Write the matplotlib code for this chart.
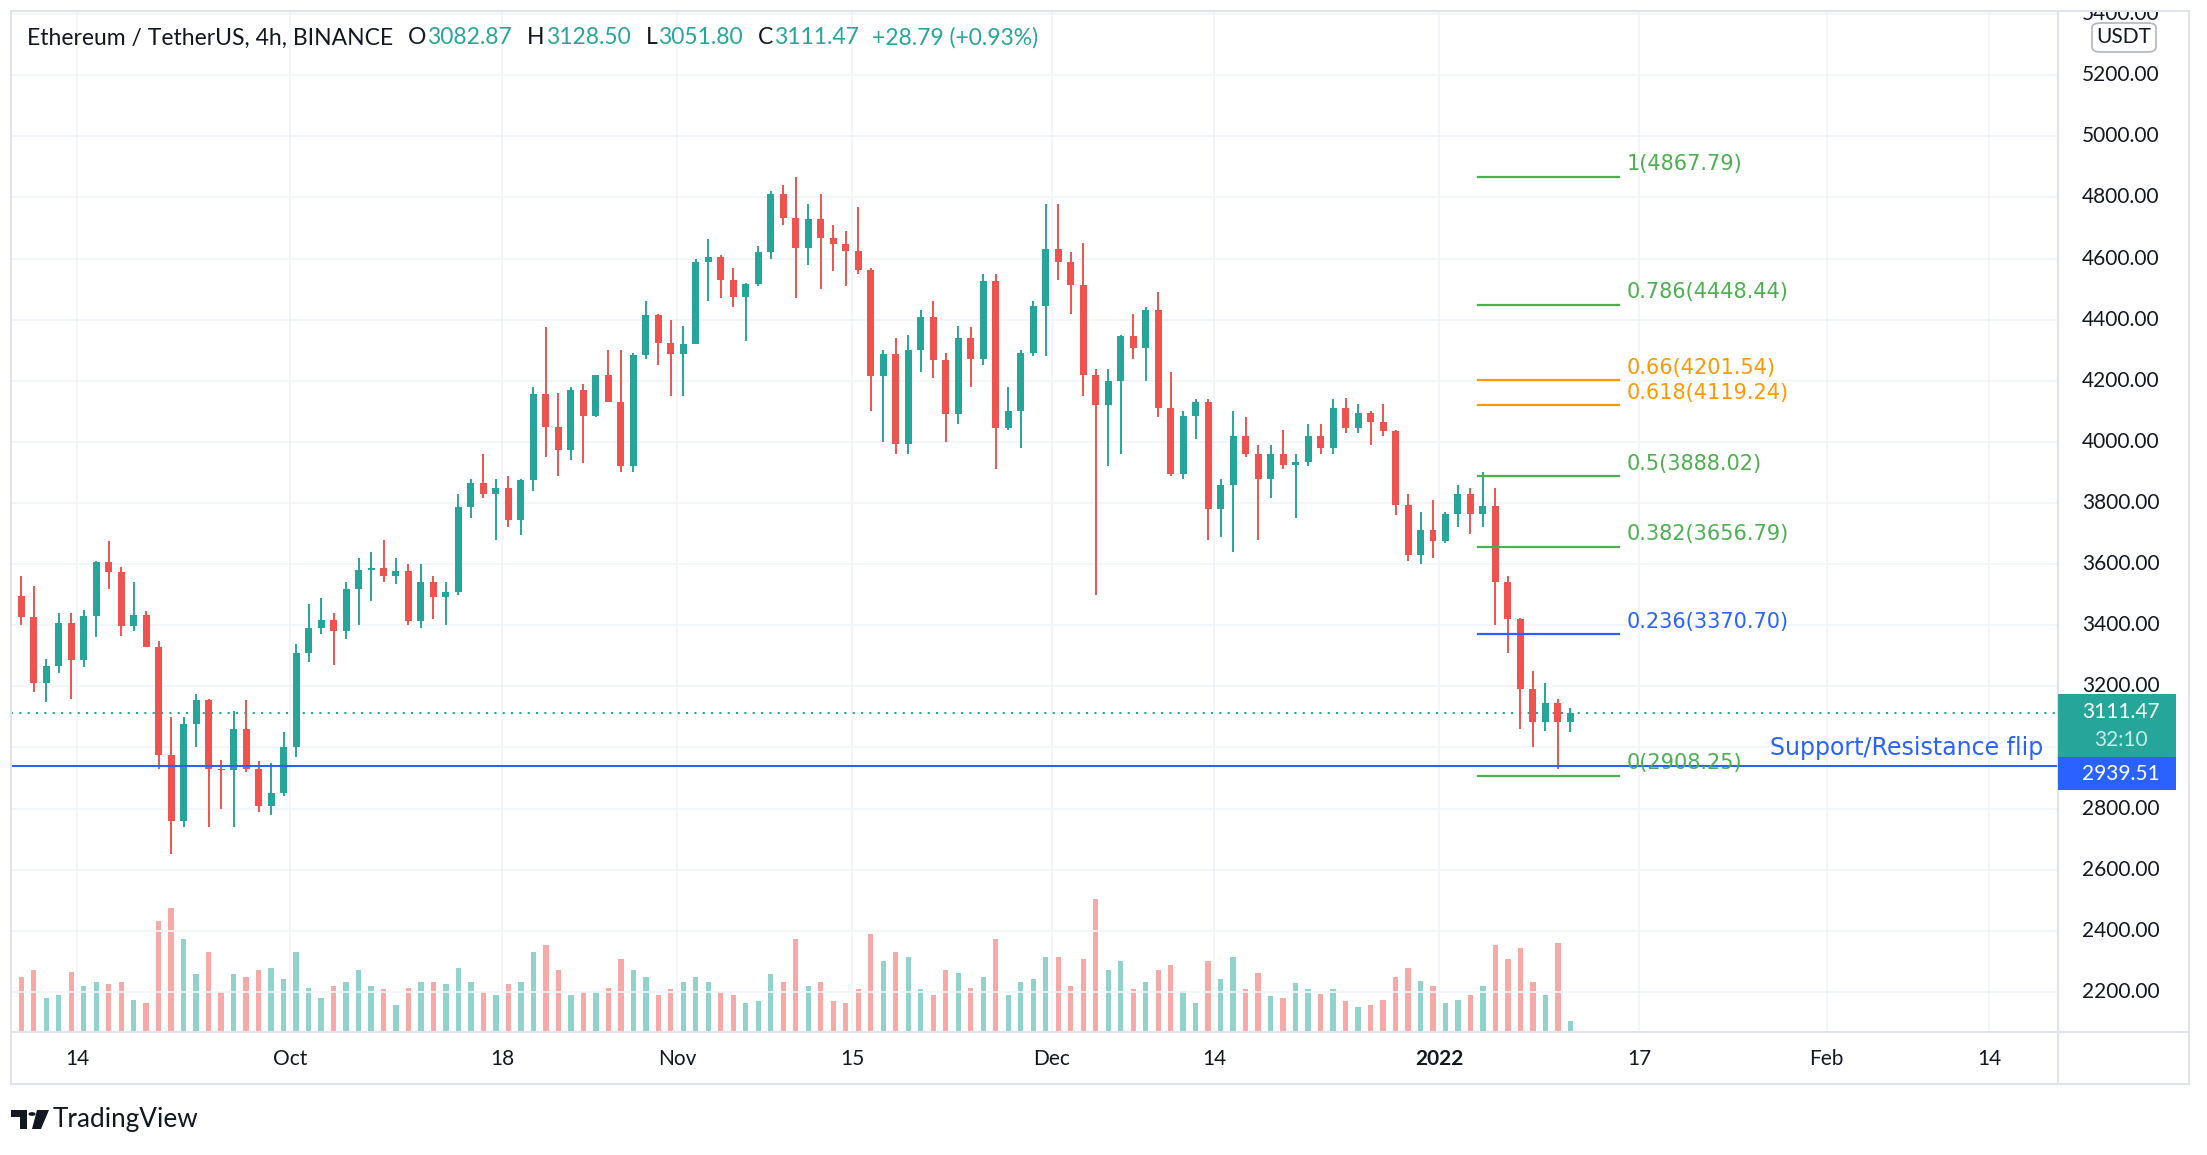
import matplotlib
matplotlib.use("Agg")
import matplotlib.pyplot as plt
import matplotlib.dates as mdates
from matplotlib.patches import Rectangle, FancyBboxPatch, Polygon, Circle
from matplotlib.lines import Line2D
from datetime import datetime, timedelta

# ETH/USDT (Binance), daily candles, Sep 9 2021 -> Jan 11 2022
first_day = datetime(2021, 9, 9)

opens = [3495, 3427, 3210, 3266, 3407, 3285, 3429, 3606, 3575, 3397, 3433, 3330, 2975, 2760, 3077, 3155, 2930, 2925, 3062, 2930, 2808, 2851,
         3000, 3308, 3390, 3418, 3382, 3518, 3580, 3588, 3561, 3576, 3415, 3543, 3493, 3510, 3788, 3866, 3830, 3849, 3745, 3876, 4158, 4050, 3972, 4170, 4085, 4218, 4130, 3921, 4283, 4414, 4325,
         4288, 4320, 4589, 4605, 4530, 4475, 4518, 4620, 4812, 4734, 4635, 4730, 4667, 4648, 4625, 4562, 4215, 4288, 3992, 4300, 4410, 4268, 4090, 4340, 4271, 4525, 4045, 4100, 4292, 4445,
         4632, 4589, 4515, 4220, 4120, 4198, 4346, 4308, 4432, 4110, 3895, 4085, 4130, 3780, 3860, 4020, 3960, 3880, 3960, 3925, 3935, 4020, 3980, 4110, 4045, 4095, 4065, 4035, 3792, 3630, 3713,
         3676, 3765, 3830, 3765, 3790, 3540, 3420, 3190, 3085, 3145, 3082.87]
highs = [3560, 3530, 3290, 3440, 3440, 3450, 3610, 3675, 3590, 3540, 3445, 3350, 3100, 3100, 3175, 3160, 2960, 3120, 3155, 2955, 2950, 3050,
         3340, 3470, 3490, 3440, 3540, 3620, 3640, 3680, 3620, 3600, 3600, 3560, 3540, 3830, 3880, 3960, 3880, 3890, 3880, 4180, 4375, 4160, 4180, 4190, 4220, 4300, 4300, 4290, 4460, 4420, 4400,
         4380, 4600, 4665, 4610, 4570, 4520, 4640, 4822, 4840, 4868, 4780, 4810, 4710, 4690, 4770, 4570, 4300, 4340, 4350, 4430, 4460, 4290, 4380, 4375, 4550, 4550, 4180, 4300, 4460, 4780,
         4778, 4620, 4650, 4240, 4240, 4350, 4420, 4440, 4490, 4230, 4100, 4140, 4140, 3880, 4100, 4080, 3990, 3990, 4040, 3960, 4060, 4060, 4140, 4145, 4125, 4100, 4125, 4040, 3830, 3770, 3810,
         3770, 3860, 3850, 3900, 3850, 3560, 3425, 3250, 3210, 3160, 3128.50]
lows = [3400, 3180, 3150, 3245, 3160, 3265, 3360, 3520, 3365, 3380, 3330, 2930, 2650, 2740, 3000, 2740, 2800, 2740, 2920, 2790, 2780, 2840,
        2970, 3280, 3370, 3270, 3355, 3400, 3480, 3540, 3535, 3400, 3390, 3420, 3400, 3500, 3750, 3815, 3680, 3720, 3695, 3840, 3950, 3890, 3940, 3930, 4080, 4130, 3900, 3900, 4270, 4250, 4150,
        4150, 4320, 4460, 4470, 4440, 4330, 4510, 4600, 4710, 4470, 4580, 4500, 4560, 4510, 4550, 4100, 4000, 3960, 3960, 4230, 4210, 4000, 4060, 4180, 4250, 3910, 4040, 3980, 4280, 4280,
        4530, 4420, 4150, 3500, 3920, 3960, 4270, 4200, 4080, 3890, 3880, 4010, 3680, 3690, 3640, 3950, 3680, 3815, 3910, 3750, 3920, 3960, 3960, 4030, 4030, 3990, 4020, 3760, 3610, 3600, 3620,
        3670, 3720, 3700, 3720, 3400, 3310, 3060, 3000, 3055, 2928, 3051.80]
closes = [3427, 3210, 3266, 3407, 3285, 3429, 3606, 3575, 3397, 3433, 3330, 2975, 2760, 3077, 3155, 2930, 2925, 3062, 2930, 2808, 2851, 3000,
          3308, 3390, 3418, 3382, 3518, 3580, 3588, 3561, 3576, 3415, 3543, 3493, 3510, 3788, 3866, 3830, 3849, 3745, 3876, 4158, 4050, 3972, 4170, 4085, 4218, 4130, 3921, 4283, 4414, 4325, 4288,
          4320, 4589, 4605, 4530, 4475, 4518, 4620, 4812, 4734, 4635, 4730, 4667, 4648, 4625, 4562, 4215, 4288, 3992, 4300, 4410, 4268, 4090, 4340, 4271, 4525, 4045, 4100, 4292, 4445, 4632,
          4589, 4515, 4220, 4120, 4198, 4346, 4308, 4432, 4110, 3895, 4085, 4130, 3780, 3860, 4020, 3960, 3880, 3960, 3925, 3935, 4020, 3980, 4110, 4045, 4095, 4065, 4035, 3792, 3630, 3713, 3676,
          3765, 3830, 3765, 3790, 3540, 3420, 3190, 3085, 3145, 3082.87, 3111.47]
# thousand ETH per day, estimated from the volume pane
volumes = [620, 700, 380, 420, 680, 520, 560, 540, 560, 360, 330, 1250, 1400, 1050, 650, 900, 450, 650, 620, 700, 720, 600,
           900, 500, 380, 520, 560, 700, 520, 480, 300, 500, 560, 560, 540, 720, 560, 450, 420, 540, 560, 900, 980, 700, 420, 450, 450, 500, 820, 700, 620, 420, 480,
           560, 620, 560, 450, 420, 330, 350, 650, 560, 1050, 520, 560, 350, 330, 480, 1100, 800, 900, 850, 480, 420, 700, 660, 500, 620, 1050, 420, 560, 600, 850,
           850, 520, 820, 1500, 700, 800, 480, 560, 700, 750, 460, 330, 800, 600, 850, 480, 660, 400, 380, 550, 480, 430, 480, 350, 280, 300, 360, 620, 720, 580, 520,
           330, 360, 420, 520, 980, 820, 950, 560, 420, 1000, 120]

prev_close = 3082.68
support_price = 2939.51
fib_labels = ["1", "0.786", "0.66", "0.618", "0.5", "0.382", "0.236", "0"]
fib_prices = [4867.79, 4448.44, 4201.54, 4119.24, 3888.02, 3656.79, 3370.70, 2908.25]
fib_colors = ["#4caf50", "#4caf50", "#ff9800", "#ff9800", "#4caf50", "#4caf50", "#2962ff", "#4caf50"]
fib_start, fib_end = datetime(2022, 1, 4, 2), datetime(2022, 1, 15, 10)

price_ticks = list(range(2200, 5401, 200))
time_ticks = [datetime(2021, 9, 14), datetime(2021, 10, 1), datetime(2021, 10, 18), datetime(2021, 11, 1),
              datetime(2021, 11, 15), datetime(2021, 12, 1), datetime(2021, 12, 14), datetime(2022, 1, 1),
              datetime(2022, 1, 17), datetime(2022, 2, 1), datetime(2022, 2, 14)]
time_labels = ["14", "Oct", "18", "Nov", "15", "Dec", "14", "2022", "17", "Feb", "14"]

UP, DOWN = "#26a69a", "#ef5350"
BLUE = "#2962ff"
TXT = "#131722"
GRID = "#f0f3fa"
FRAME = "#e0e3eb"
FONT = "Lato"

W, H = 2207, 1155
fig = plt.figure(figsize=(W / 100, H / 100), dpi=100)
fig.patch.set_facecolor("white")


def pax(l, t, r, b):
    a = fig.add_axes([l / W, 1 - b / H, (r - l) / W, (b - t) / H])
    a.set_axis_off()
    return a


L, T, R, B = 11, 11, 2058, 1032
x0 = mdates.date2num(datetime(2021, 9, 14)) - (77.4 - L) / 12.494
x1 = mdates.date2num(datetime(2021, 9, 14)) + (R - 77.4) / 12.494
ylo, yhi = 2069, 5410

xs = [mdates.date2num(first_day + timedelta(days=i)) + 0.5 for i in range(len(closes))]
cols = [UP if c >= o else DOWN for o, c in zip(opens, closes)]

# volume pane (behind)
vax = pax(L, T, R, B)
vax.set_xlim(x0, x1)
vax.set_ylim(0, 11500)
vcols = ["#92d2cc" if c == UP else "#f7a9a7" for c in cols]
vax.bar(xs, volumes, width=0.42, color=vcols, linewidth=0)

# price pane
ax = pax(L, T, R, B)
ax.set_xlim(x0, x1)
ax.set_ylim(ylo, yhi)
for p in price_ticks:
    ax.axhline(p, color=GRID, lw=1.2, zorder=0)
for d in time_ticks:
    ax.axvline(mdates.date2num(d), color=GRID, lw=1.2, zorder=0)

ax.vlines(xs, lows, highs, colors=cols, lw=1.4, zorder=3)
ax.bar(xs, [max(abs(c - o), 4) for o, c in zip(opens, closes)],
       bottom=[min(o, c) for o, c in zip(opens, closes)], width=0.56, color=cols, linewidth=0, zorder=3)

ax.axhline(closes[-1], color=UP, lw=1.5, ls=(0, (1, 3)), zorder=2)
ax.axhline(support_price, color=BLUE, lw=1.5, zorder=4)
ax.text(0.993, support_price + 20, "Support/Resistance flip", transform=ax.get_yaxis_transform(),
        ha="right", va="bottom", color=BLUE, fontsize=17, family="DejaVu Sans", zorder=5)

fs = mdates.date2num(fib_start)
fe = mdates.date2num(fib_end)
for lab, p, c in zip(fib_labels, fib_prices, fib_colors):
    ax.plot([fs, fe], [p, p], color=c, lw=1.6, zorder=4)
    ax.annotate(f"{lab}({p:.2f})", (fe, p), xytext=(5, 9), textcoords="offset points",
                ha="left", va="center", color=c, fontsize=15, family="DejaVu Sans", zorder=5)

# price scale (labels hidden behind the last-price boxes are skipped, as on the reference)
pa = pax(R, T, 2189, B)
pa.set_ylim(ylo, yhi)
pa.set_xlim(0, 1)
for p in price_ticks:
    if 2900 < p < 3150:
        continue
    pa.text(0.48, p, f"{p:.2f}", ha="center", va="center", color=TXT, fontsize=15, family=FONT, clip_on=True)
fig.patches.append(FancyBboxPatch(((2092) / W, 1 - 52 / H), 64 / W, 29 / H,
                                  boxstyle="round,pad=0,rounding_size=0.004", transform=fig.transFigure,
                                  fc="white", ec="#b2b5be", lw=1.2, zorder=10))
fig.text(2124 / W, 1 - 37 / H, "USDT", ha="center", va="center", color=TXT, fontsize=15, family=FONT, zorder=11)

# last price / countdown / support labels
fig.patches.append(Rectangle((R / W, 1 - 757 / H), 118 / W, 63 / H, transform=fig.transFigure, fc=UP, ec="none", zorder=10))
fig.patches.append(Rectangle((R / W, 1 - 790 / H), 118 / W, 33 / H, transform=fig.transFigure, fc=BLUE, ec="none", zorder=10))
fig.text(2121 / W, 1 - 712 / H, f"{closes[-1]:.2f}", ha="center", va="center", color="white", fontsize=15, family=FONT, zorder=11)
fig.text(2121 / W, 1 - 740 / H, "32:10", ha="center", va="center", color="#c8ece8", fontsize=15, family=FONT, zorder=11)
fig.text(2121 / W, 1 - 774 / H, f"{support_price:.2f}", ha="center", va="center", color="white", fontsize=15, family=FONT, zorder=11)

# time scale
ta = pax(L, B, R, 1084)
ta.set_xlim(x0, x1)
ta.set_ylim(0, 1)
for d, lab in zip(time_ticks, time_labels):
    ta.text(mdates.date2num(d), 0.48, lab, ha="center", va="center", color=TXT, fontsize=15, family=FONT,
            fontweight="bold" if lab == "2022" else "normal")

# frame
for (xa, ya, xb, yb) in [(11, 11, 2189, 11), (11, 1084, 2189, 1084), (11, 11, 11, 1084), (2189, 11, 2189, 1084),
                         (R, 11, R, 1084), (11, B, 2189, B)]:
    fig.add_artist(Line2D([xa / W, xb / W], [1 - ya / H, 1 - yb / H], color=FRAME, lw=1.5))

# header
renderer = fig.canvas.get_renderer()
pieces = [("Ethereum / TetherUS, 4h, BINANCE", TXT, 0), ("O", TXT, 15), (f"{opens[-1]:.2f}", UP, 1),
          ("H", TXT, 15), (f"{highs[-1]:.2f}", UP, 1), ("L", TXT, 15), (f"{lows[-1]:.2f}", UP, 1),
          ("C", TXT, 15), (f"{closes[-1]:.2f}", UP, 1),
          (f"+{closes[-1] - prev_close:.2f} (+{(closes[-1] - prev_close) / prev_close * 100:.2f}%)", UP, 13)]
xpos = 27
for s, c, gap in pieces:
    xpos += gap
    t = fig.text(xpos / W, 1 - 38 / H, s, ha="left", va="center", color=c, fontsize=16.5, family=FONT)
    xpos = t.get_window_extent(renderer=renderer).x1

# TradingView logo
fig.patches.append(Rectangle((11 / W, 1 - 1117 / H), 16 / W, 7 / H, transform=fig.transFigure, fc=TXT, ec="none"))
fig.patches.append(Rectangle((20 / W, 1 - 1129 / H), 7 / W, 19 / H, transform=fig.transFigure, fc=TXT, ec="none"))
fig.patches.append(Circle((32 / W, 1 - 1114 / H), 3.6 / W, transform=fig.transFigure, fc=TXT, ec="none"))
fig.patches.append(Polygon([(37 / W, 1 - 1110 / H), (49 / W, 1 - 1110 / H), (41 / W, 1 - 1129 / H), (32 / W, 1 - 1129 / H)],
                           closed=True, transform=fig.transFigure, fc=TXT, ec="none"))
fig.text(53 / W, 1 - 1119 / H, "TradingView", ha="left", va="center", color=TXT, fontsize=18.8, family=FONT)

fig.savefig("out.png", dpi=100)
